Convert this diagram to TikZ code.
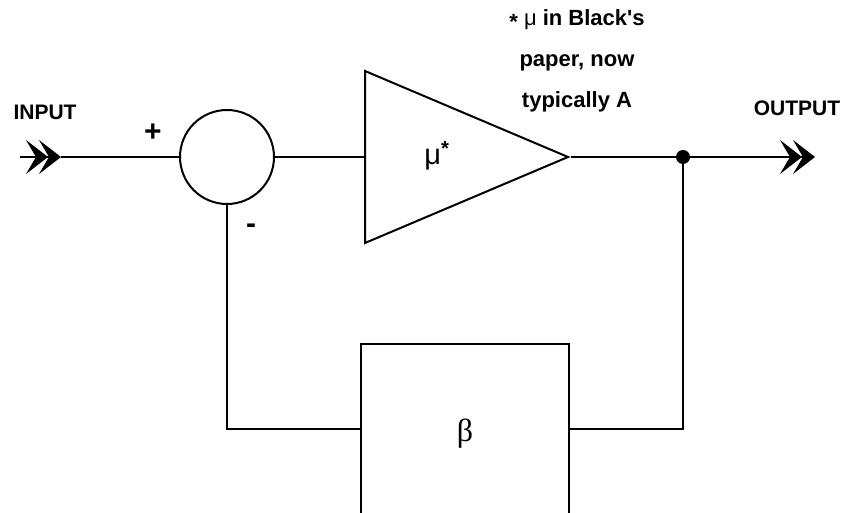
\documentclass[tikz,border=0pt]{standalone}
\usepackage{fontspec}
\setmainfont{Liberation Sans}
\newfontfamily\greekserif{Liberation Serif}
\usetikzlibrary{shapes.geometric, arrows.meta, positioning, calc}
\tikzset{
  % Block styles
  sumnode/.style={circle, draw, line width=2pt, minimum size=94pt, inner sep=0pt},
  ampnode/.style={isosceles triangle, isosceles triangle stretches, draw, line width=2pt, minimum width=172pt, minimum height=203pt, inner sep=0pt},
  fbbox/.style={rectangle, draw, line width=2pt, minimum width=208pt, minimum height=180pt, font=\greekserif\fontsize{32}{36}\selectfont},
  % Label styles
  portlabel/.style={font=\bfseries\fontsize{21}{24}\selectfont, inner sep=0pt},
  signlabel/.style={font=\bfseries\fontsize{30}{32}\selectfont, inner sep=0pt},
  gainlabel/.style={font=\fontsize{29}{32}\selectfont, inner sep=0pt},
  % Connector styles
  wire/.style={line width=2pt},
  chevrons/.style={line width=2pt, -{Stealth[length=22pt, width=34pt, inset=10pt, sep=-9pt]Stealth[length=22pt, width=34pt, inset=10pt]}}
}
\begin{document}
\begin{tikzpicture}[x=1pt, y=-1pt]
  \useasboundingbox (0,0) rectangle (844,513);
  \clip (0,0) rectangle (844,513);

  % Forward path
  \coordinate (inTail) at (20,157);
  \coordinate (inTip) at (61,157);
  \node[sumnode] (sum) at (227,157) {};
  \node[ampnode, anchor=lower side] (amp) at (364,157) {};
  \node[circle, fill, inner sep=0pt, minimum size=14pt] (tap) at (683,157) {};
  \coordinate (outTip) at (815,157);

  % Feedback block
  \node[fbbox, anchor=north] (beta) at (465,343) {β};

  % Connectors
  \draw[chevrons] (inTail) -- (inTip);
  \draw[wire] (inTip) -- (sum.west);
  \draw[wire] (sum.east) -- (amp.lower side);
  \draw[wire] (amp.apex) -- (tap.center);
  \draw[chevrons] (tap.center) -- (outTip);
  \draw[wire] (tap.center) |- ([yshift=5pt]beta.east);
  \draw[wire] ([yshift=5pt]beta.west) -| (sum.south);

  % Labels
  \node[gainlabel] (gain) at (437,156) {μ\textsuperscript{\bfseries *}};
  \node[portlabel] (inLabel) at (45,112) {INPUT};
  \node[portlabel] (outLabel) at (797,108) {OUTPUT};
  \node[signlabel] (plus) at (153,133) {+};
  \node[signlabel] (minus) at (251,229) {-};
  \node[portlabel, align=center, font=\bfseries\fontsize{22}{41}\selectfont] (note) at (577,61)
    {\raisebox{-0.3ex}{*} {\mdseries μ} in Black\textquotesingle s\\paper, now\\typically A};
\end{tikzpicture}
\end{document}
